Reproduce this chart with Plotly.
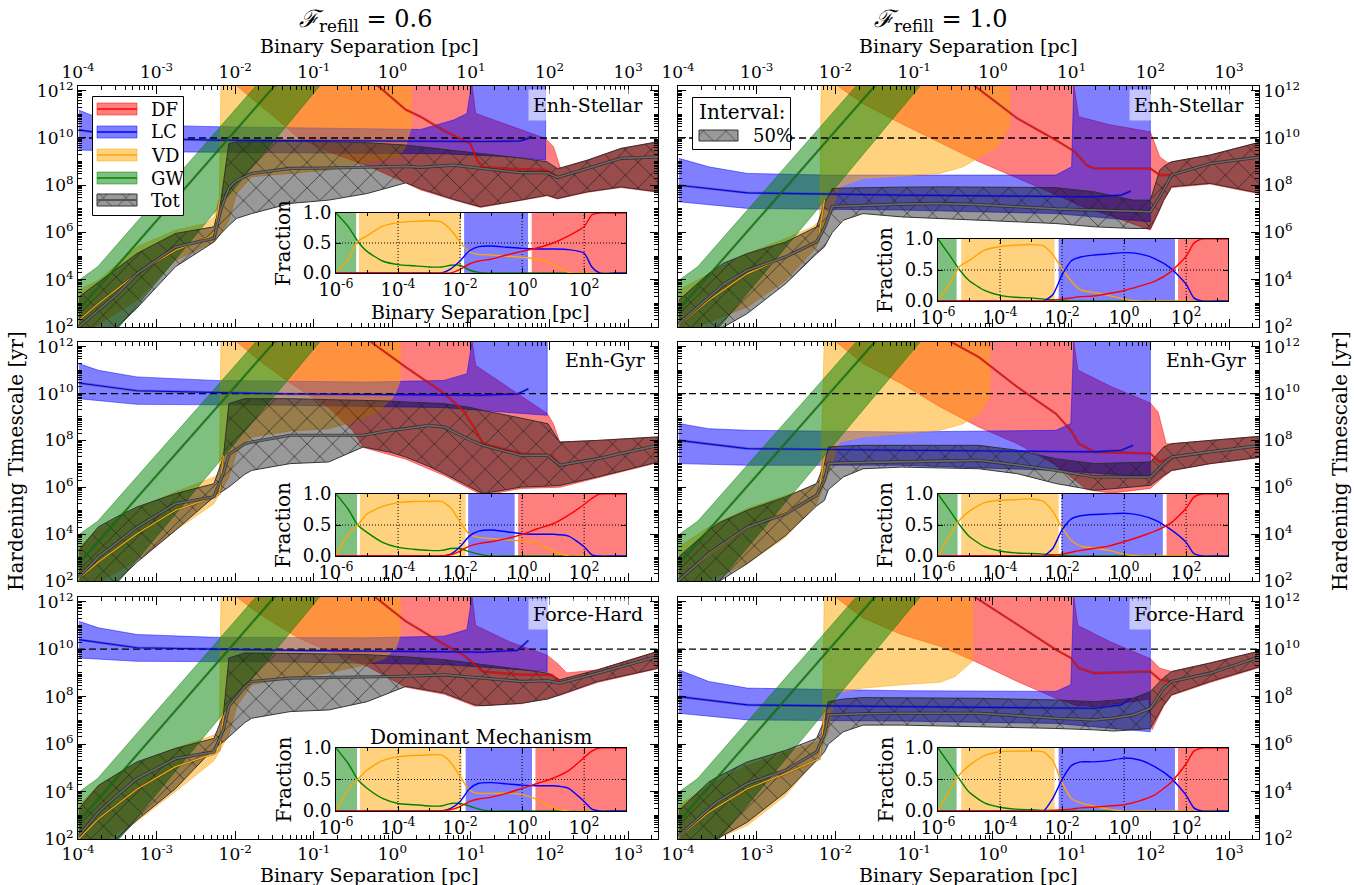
import plotly.graph_objects as go

FONT = "DejaVu Serif"
W, H = 1354, 885

# ======================= DATA (log10 values) =======================
# x : log10(binary separation / pc)     y : log10(hardening timescale / yr)

# --- gravitational-wave band (same in all panels)
GW_X = [-4.0, -3.75, -3.5, -3.0, -2.5, -2.0, -1.5, -1.0, -0.5]
GW_HI = [3.95, 4.55, 5.5, 7.4, 9.3, 11.2, 13.1, 15.0, 16.9]
GW_MD = [2.7, 3.65, 4.6, 6.5, 8.4, 10.3, 12.2, 14.1, 16.0]
GW_LO = [0.0, 1.0, 1.9, 3.9, 5.9, 7.9, 9.9, 11.9, 13.9]

HUBBLE_LOG = 10.0

# ---------- panel L1 : Enh-Stellar, F_refill = 0.6
TOT_X_L1 = [-3.99, -3.74, -3.5, -3.25, -2.76, -2.27, -2.18, -2.08, -1.98, -1.79, -1.3, -0.81, -0.32, 0.17, 0.36, 0.78, 1.12, 1.63, 1.97, 2.1, 2.48, 2.91, 3.38]
TOT_HI_L1 = [3.27, 3.9, 4.5, 5.11, 5.96, 6.24, 7.37, 9.77, 9.84, 9.85, 9.85, 9.84, 9.8, 9.7, 9.63, 9.45, 9.32, 9.15, 8.99, 8.7, 9.06, 9.56, 9.84]
TOT_MD_L1 = [2.0, 2.7, 3.4, 4.26, 5.39, 5.75, 7.0, 7.9, 8.2, 8.5, 8.71, 8.73, 8.75, 8.8, 8.76, 8.85, 8.72, 8.53, 8.53, 8.33, 8.71, 9.14, 9.2]
TOT_LO_L1 = [0.8, 1.4, 2.0, 2.8, 4.55, 5.6, 5.96, 6.3, 6.6, 6.8, 7.23, 7.37, 7.65, 8.1, 7.85, 7.4, 7.09, 7.37, 7.58, 7.44, 7.72, 7.93, 7.72]
LC_HX_L1 = [-3.99, -3.74, -3.5, -3.25, -2.27, -0.32, 0.36, 0.78, 0.95, 1.02, 1.95]
LC_HI_L1 = [11.18, 10.85, 10.62, 10.55, 10.48, 10.41, 10.36, 10.76, 11.04, 12.6, 12.6]
LC_LX_L1 = [-3.99, -3.25, -1.3, 0.66, 1.5, 1.95]
LC_LO_L1 = [9.49, 9.42, 9.38, 9.33, 9.2, 9.06]
LC_MX_L1 = [-3.99, -3.5, -3.25, -2.27, -0.32, 0.36, 1.21, 1.63, 1.71, 1.77]
LC_MD_L1 = [10.34, 10.1, 9.98, 9.91, 9.87, 9.85, 9.85, 9.88, 9.96, 10.08]
DF_HX_L1 = [-1.98, 1.0, 1.06, 1.63, 1.95, 2.05, 2.1, 2.14, 2.48, 2.91, 3.38]
DF_HI_L1 = [12.6, 12.6, 11.04, 10.34, 9.98, 9.63, 9.06, 8.7, 9.06, 9.56, 9.84]
DF_LX_L1 = [-1.98, -1.69, -1.4, -1.2, -0.8, -0.3, 0.17, 0.36, 0.78, 1.12, 1.63, 1.97, 2.1, 2.48, 2.91, 3.38]
DF_LO_L1 = [12.2, 11.4, 10.6, 10.0, 9.4, 8.8, 8.1, 7.8, 7.37, 7.06, 7.35, 7.55, 7.42, 7.7, 7.9, 7.7]
DF_MX_L1 = [-0.4, -0.17, 0.17, 0.36, 0.66, 0.99, 1.09, 1.16, 1.63, 1.95, 2.04, 2.1]
DF_MD_L1 = [12.6, 12.17, 11.2, 10.9, 10.3, 9.77, 9.0, 8.76, 8.68, 8.64, 8.5, 8.36]
VD_HX_L1 = [-3.99, -3.74, -3.25, -2.76, -2.37, -2.27, -2.2, -2.18, 0.24]
VD_HI_L1 = [3.56, 3.98, 5.39, 6.1, 6.38, 6.66, 7.37, 12.6, 12.6]
VD_LX_L1 = [-3.99, -3.25, -2.76, -2.27, -2.18, -2.08, -1.98, -1.79, -1.3, -0.81, -0.32, 0.07, 0.17, 0.24]
VD_LO_L1 = [1.58, 3.13, 4.83, 5.6, 5.96, 6.52, 7.65, 8.36, 8.5, 8.64, 8.99, 9.2, 9.63, 10.48]
VD_MX_L1 = [-3.99, -3.74, -3.25, -2.76, -2.32, -2.25, -2.2]
VD_MD_L1 = [2.28, 2.99, 4.26, 5.25, 5.82, 6.1, 7.37]

# ---------- panel R1 : Enh-Stellar, F_refill = 1.0
TOT_X_R1 = [-3.99, -3.61, -3.42, -3.12, -2.63, -2.24, -2.14, -2.04, -1.9, -1.65, -1.16, -0.67, -0.18, 0.31, 0.8, 1.29, 1.78, 2.0, 2.12, 2.17, 2.27, 2.76, 3.41]
TOT_HI_R1 = [3.13, 4.26, 4.7, 5.11, 5.6, 6.24, 7.23, 7.86, 7.88, 7.9, 7.92, 7.93, 7.92, 7.9, 7.9, 7.72, 7.37, 7.37, 8.64, 8.8, 8.99, 9.28, 9.84]
TOT_MD_R1 = [2.14, 3.27, 3.8, 4.4, 4.97, 5.6, 6.2, 7.1, 7.12, 7.16, 7.2, 7.23, 7.18, 7.09, 7.0, 6.95, 6.9, 6.88, 7.51, 7.8, 8.43, 8.92, 9.2]
TOT_LO_R1 = [1.0, 1.8, 2.0, 2.57, 3.84, 5.1, 5.39, 6.0, 6.52, 6.8, 6.66, 6.6, 6.52, 6.45, 6.38, 6.24, 6.17, 6.17, 7.0, 7.37, 7.94, 8.08, 7.65]
LC_HX_R1 = [-3.99, -3.61, -3.12, -2.14, 0.8, 1.0, 1.03, 2.0]
LC_HI_R1 = [9.14, 8.78, 8.5, 8.43, 8.43, 8.78, 12.6, 12.6]
LC_LX_R1 = [-3.99, -3.12, -1.16, 0.8, 2.0]
LC_LO_R1 = [7.3, 7.02, 6.95, 6.8, 6.45]
LC_MX_R1 = [-3.99, -3.12, -1.16, 1.29, 1.63, 1.75]
LC_MD_R1 = [8.0, 7.68, 7.58, 7.51, 7.58, 7.75]
DF_HX_R1 = [-1.97, 1.01, 1.09, 1.5, 2.0, 2.12, 2.22, 2.27, 2.76, 3.41]
DF_HI_R1 = [12.6, 12.6, 10.9, 10.55, 10.26, 9.2, 8.95, 8.99, 9.28, 9.84]
DF_LX_R1 = [-1.97, -1.65, -1.16, -0.67, -0.18, 0.3, 0.8, 1.14, 1.5, 2.0, 2.12, 2.17, 2.27, 2.76, 3.41]
DF_LO_R1 = [12.2, 11.45, 10.6, 9.8, 9.0, 8.3, 7.6, 7.09, 6.7, 6.1, 6.95, 7.35, 7.9, 8.05, 7.62]
DF_MX_R1 = [-0.4, -0.23, 0.31, 0.8, 1.04, 1.19, 1.29, 2.0, 2.12, 2.27]
DF_MD_R1 = [12.7, 12.2, 10.83, 9.91, 9.42, 8.85, 8.71, 8.71, 8.43, 8.43]
VD_HX_R1 = [-3.99, -3.12, -2.63, -2.29, -2.2, -2.18, 0.21]
VD_HI_R1 = [3.56, 5.11, 5.75, 6.24, 6.5, 12.6, 12.6]
VD_LX_R1 = [-3.99, -3.12, -2.63, -2.24, -2.09, -1.95, -1.65, -0.67, -0.38, 0.06, 0.21]
VD_LO_R1 = [1.7, 2.85, 3.98, 5.39, 6.52, 7.93, 8.29, 8.5, 8.78, 9.63, 10.48]
VD_MX_R1 = [-3.99, -3.61, -3.12, -2.63, -2.22, -2.14]
VD_MD_R1 = [2.07, 3.13, 4.26, 4.97, 5.68, 7.37]

# ---------- panel L2 : Enh-Gyr, F_refill = 0.6
TOT_X_L2 = [-3.99, -3.74, -3.5, -3.25, -2.76, -2.27, -2.15, -2.08, -1.88, -1.79, -1.3, -0.81, -0.37, -0.03, 0.17, 0.46, 0.66, 1.0, 1.15, 1.64, 1.98, 2.13, 2.61, 3.38]
TOT_HI_L2 = [3.31, 4.31, 4.75, 5.16, 5.73, 6.15, 7.29, 9.57, 9.78, 9.78, 9.78, 9.74, 9.71, 9.68, 9.64, 9.6, 9.57, 9.4, 9.28, 8.95, 8.71, 7.93, 8.0, 8.15]
TOT_MD_L2 = [2.17, 3.03, 3.65, 4.3, 5.3, 5.59, 6.6, 7.4, 7.85, 7.93, 8.22, 8.22, 8.22, 8.43, 8.5, 8.64, 8.57, 8.0, 7.79, 7.36, 7.36, 6.94, 7.22, 7.79]
TOT_LO_L2 = [0.9, 1.5, 2.0, 2.8, 4.16, 5.59, 5.85, 6.01, 6.55, 6.72, 7.01, 7.08, 7.72, 7.5, 7.29, 6.9, 6.58, 6.0, 5.73, 6.01, 6.05, 6.08, 6.44, 7.08]
LC_HX_L2 = [-3.99, -3.74, -3.25, -2.27, -0.32, 0.66, 0.95, 1.03, 1.97]
LC_HI_L2 = [11.28, 10.99, 10.71, 10.56, 10.49, 10.56, 10.85, 12.6, 12.6]
LC_LX_L2 = [-3.99, -3.25, -1.3, 0.66, 1.97]
LC_LO_L2 = [9.78, 9.54, 9.5, 9.4, 9.07]
LC_MX_L2 = [-3.99, -3.25, -1.3, 1.15, 1.59, 1.73]
LC_MD_L2 = [10.45, 10.12, 9.98, 9.93, 9.98, 10.2]
DF_HX_L2 = [-1.98, 1.0, 1.06, 1.5, 1.97, 2.05, 2.13, 2.61, 3.38]
DF_HI_L2 = [12.6, 12.6, 11.2, 10.2, 9.15, 8.7, 7.93, 8.0, 8.15]
DF_LX_L2 = [-1.98, -1.69, -1.3, -0.81, -0.5, -0.37, 0.17, 0.66, 1.15, 1.64, 2.13, 2.61, 3.38]
DF_LO_L2 = [12.2, 11.4, 10.45, 9.4, 8.4, 7.7, 7.2, 6.5, 5.65, 5.95, 6.0, 6.4, 7.05]
DF_MX_L2 = [-0.5, -0.27, 0.17, 0.66, 0.9, 1.05, 1.15, 1.64, 2.03, 2.13]
DF_MD_L2 = [12.7, 12.2, 11.13, 10.0, 9.28, 8.5, 7.86, 7.44, 7.36, 6.94]
VD_HX_L2 = [-3.99, -3.74, -3.25, -2.76, -2.27, -2.2, -2.18, 0.1]
VD_HI_L2 = [3.45, 4.23, 5.09, 5.8, 6.44, 6.6, 12.6, 12.6]
VD_LX_L2 = [-3.99, -3.25, -2.76, -2.27, -2.08, -1.98, -1.79, -1.3, -0.81, -0.5, -0.2, 0.0, 0.06, 0.1]
VD_LO_L2 = [1.46, 2.88, 4.16, 5.3, 6.44, 7.5, 8.15, 8.4, 8.5, 8.8, 9.2, 9.8, 10.2, 10.56]
VD_MX_L2 = [-3.99, -3.74, -3.25, -2.76, -2.27, -2.2, -2.15]
VD_MD_L2 = [2.1, 2.81, 4.02, 5.02, 5.59, 5.73, 7.36]

# ---------- panel R2 : Enh-Gyr, F_refill = 1.0
TOT_X_R2 = [-3.99, -3.61, -3.47, -3.12, -2.63, -2.24, -2.14, -2.09, -1.9, -1.65, -1.16, -0.18, 0.31, 0.8, 1.29, 1.78, 2.0, 2.17, 2.27, 2.76, 3.41]
TOT_HI_R2 = [3.03, 4.16, 4.5, 5.02, 5.59, 6.16, 7.0, 7.72, 7.76, 7.79, 7.79, 7.79, 7.58, 7.22, 7.01, 7.05, 7.08, 7.72, 7.86, 8.0, 8.18]
TOT_MD_R2 = [2.03, 3.17, 3.5, 4.3, 4.87, 5.66, 6.3, 7.01, 7.04, 7.06, 7.08, 7.15, 6.95, 6.72, 6.44, 6.44, 6.44, 7.01, 7.29, 7.51, 7.79]
TOT_LO_R2 = [0.8, 1.6, 2.0, 2.74, 3.95, 5.2, 5.44, 5.9, 6.44, 6.79, 6.86, 6.79, 6.58, 6.16, 5.87, 6.01, 6.08, 6.5, 6.72, 7.01, 7.29]
LC_HX_R2 = [-3.99, -3.61, -3.12, -1.16, 0.8, 0.99, 1.03, 2.0]
LC_HI_R2 = [8.72, 8.5, 8.43, 8.36, 8.43, 8.72, 12.6, 12.6]
LC_LX_R2 = [-3.99, -3.12, -1.16, 0.8, 2.0]
LC_LO_R2 = [7.01, 6.94, 6.94, 6.72, 6.44]
LC_MX_R2 = [-3.99, -3.12, -1.16, 1.29, 1.63, 1.78]
LC_MD_R2 = [8.0, 7.65, 7.58, 7.51, 7.58, 7.79]
DF_HX_R2 = [-1.99, 1.01, 1.08, 1.5, 2.0, 2.1, 2.2, 2.27, 2.76, 3.41]
DF_HI_R2 = [12.6, 12.6, 11.0, 10.3, 9.6, 9.2, 7.86, 7.86, 8.0, 8.18]
DF_LX_R2 = [-1.99, -1.65, -1.16, -0.67, -0.18, 0.31, 0.8, 1.19, 1.5, 2.0, 2.17, 2.27, 2.76, 3.41]
DF_LO_R2 = [12.2, 11.28, 10.42, 9.43, 8.57, 7.86, 6.95, 5.9, 5.75, 5.95, 6.45, 6.7, 7.0, 7.27]
DF_MX_R2 = [-0.7, -0.53, -0.18, 0.31, 0.8, 0.99, 1.09, 1.29, 2.0, 2.12, 2.27]
DF_MD_R2 = [12.6, 12.2, 11.56, 10.28, 9.14, 8.43, 7.86, 7.51, 7.44, 7.08, 7.29]
VD_HX_R2 = [-3.99, -3.61, -3.12, -2.63, -2.19, -2.14, -0.04]
VD_HI_R2 = [3.45, 4.3, 5.09, 5.66, 6.16, 12.6, 12.6]
VD_LX_R2 = [-3.99, -3.12, -2.63, -2.24, -2.09, -1.95, -1.65, -1.16, -0.67, -0.38, -0.18, -0.04]
VD_LO_R2 = [1.5, 2.74, 3.88, 5.3, 6.58, 7.93, 8.15, 8.29, 8.43, 8.71, 9.14, 9.85]
VD_MX_R2 = [-3.99, -3.61, -3.12, -2.63, -2.22, -2.14]
VD_MD_R2 = [2.05, 3.1, 4.25, 4.95, 5.65, 7.3]

# ---------- panel L3 : Force-Hard, F_refill = 0.6
TOT_X_L3 = [-3.99, -3.74, -3.5, -3.25, -2.76, -2.27, -2.15, -2.08, -1.88, -1.79, -1.3, -0.81, -0.32, 0.17, 0.66, 1.05, 1.15, 1.64, 1.98, 2.13, 2.61, 3.38]
TOT_HI_L3 = [3.27, 4.26, 4.75, 5.25, 5.82, 6.24, 7.23, 9.63, 9.84, 9.84, 9.82, 9.8, 9.77, 9.68, 9.56, 9.4, 9.35, 9.15, 8.99, 8.71, 9.13, 9.91]
TOT_MD_L3 = [2.14, 3.13, 3.85, 4.54, 5.39, 5.67, 6.6, 7.6, 8.4, 8.64, 8.78, 8.8, 8.81, 8.86, 8.92, 8.82, 8.78, 8.64, 8.67, 8.57, 8.99, 9.7]
TOT_LO_L3 = [0.9, 1.5, 2.0, 2.8, 4.12, 5.82, 6.1, 6.3, 6.9, 7.09, 7.37, 7.44, 7.79, 8.43, 8.15, 7.65, 7.62, 7.72, 7.9, 8.08, 8.64, 9.2]
LC_HX_L3 = [-3.99, -3.74, -3.25, -2.27, -0.32, 0.66, 0.95, 1.03, 1.97]
LC_HI_L3 = [11.18, 10.9, 10.62, 10.5, 10.48, 10.55, 10.83, 12.6, 12.6]
LC_LX_L3 = [-3.99, -3.25, -1.3, 0.66, 1.97]
LC_LO_L3 = [9.63, 9.49, 9.46, 9.35, 9.06]
LC_MX_L3 = [-3.99, -3.25, -1.3, 1.15, 1.59, 1.73]
LC_MD_L3 = [10.4, 10.06, 9.95, 9.88, 9.95, 10.37]
DF_HX_L3 = [-1.98, 1.0, 1.06, 1.5, 1.97, 2.1, 2.22, 2.61, 3.38]
DF_HI_L3 = [12.6, 12.6, 11.0, 10.3, 9.75, 9.4, 9.0, 9.13, 9.91]
DF_LX_L3 = [-1.98, -1.69, -1.2, -0.81, -0.32, 0.17, 0.66, 1.05, 1.64, 2.13, 2.61, 3.38]
DF_LO_L3 = [12.2, 11.47, 10.48, 9.91, 9.28, 8.4, 8.1, 7.6, 7.7, 8.05, 8.6, 9.18]
DF_MX_L3 = [-0.4, -0.22, 0.17, 0.66, 0.9, 1.1, 1.15, 1.64, 2.03, 2.13]
DF_MD_L3 = [12.6, 12.2, 11.18, 10.2, 9.77, 9.2, 9.06, 8.92, 8.92, 8.64]
VD_HX_L3 = [-3.99, -3.74, -3.25, -2.76, -2.27, -2.2, -2.18, 0.1]
VD_HI_L3 = [3.41, 4.26, 5.18, 5.82, 6.38, 6.6, 12.6, 12.6]
VD_LX_L3 = [-3.99, -3.25, -2.76, -2.27, -2.08, -1.98, -1.79, -1.3, -0.81, -0.4, -0.1, 0.05, 0.1]
VD_LO_L3 = [1.3, 2.75, 4.0, 5.3, 6.4, 7.6, 8.5, 8.8, 9.0, 9.3, 9.6, 10.1, 10.62]
VD_MX_L3 = [-3.99, -3.74, -3.25, -2.76, -2.27, -2.2, -2.15]
VD_MD_L3 = [2.0, 2.85, 4.1, 5.05, 5.6, 5.75, 7.2]

# ---------- panel R3 : Force-Hard, F_refill = 1.0
TOT_X_R3 = [-3.99, -3.61, -3.51, -3.12, -2.63, -2.24, -2.14, -2.09, -1.9, -1.65, -1.16, -0.18, 0.8, 1.29, 1.53, 1.78, 2.0, 2.17, 2.27, 2.76, 3.41]
TOT_HI_R3 = [3.2, 4.4, 4.6, 5.25, 5.74, 6.24, 7.0, 7.79, 7.9, 7.96, 7.95, 7.93, 7.86, 7.79, 7.85, 7.93, 8.22, 8.8, 9.06, 9.42, 9.94]
TOT_MD_R3 = [2.14, 3.27, 3.55, 4.33, 4.9, 5.67, 6.4, 7.23, 7.26, 7.28, 7.3, 7.3, 7.09, 7.02, 7.1, 7.23, 7.51, 8.36, 8.64, 8.99, 9.7]
TOT_LO_R3 = [0.8, 1.7, 2.0, 2.71, 3.98, 5.3, 5.67, 6.0, 6.52, 6.8, 6.8, 6.73, 6.66, 6.6, 6.55, 6.6, 6.66, 7.65, 8.08, 8.64, 9.28]
LC_HX_R3 = [-3.99, -3.61, -3.12, -1.16, 0.8, 0.99, 1.03, 2.0]
LC_HI_R3 = [9.13, 8.64, 8.36, 8.25, 8.22, 8.5, 12.6, 12.6]
LC_LX_R3 = [-3.99, -3.12, -1.16, 0.8, 2.0]
LC_LO_R3 = [7.3, 7.02, 6.97, 6.87, 6.52]
LC_MX_R3 = [-3.99, -3.12, -1.16, 1.29, 1.63, 1.75]
LC_MD_R3 = [8.0, 7.65, 7.58, 7.51, 7.65, 7.93]
DF_HX_R3 = [-2.0, 1.01, 1.08, 1.5, 2.0, 2.12, 2.27, 2.76, 3.41]
DF_HI_R3 = [12.6, 12.6, 11.0, 10.3, 9.6, 9.2, 9.06, 9.42, 9.94]
DF_LX_R3 = [-2.0, -1.65, -1.16, -0.67, -0.23, 0.31, 0.8, 1.04, 1.29, 1.78, 1.98, 2.02, 2.17, 2.27, 2.76, 3.41]
DF_LO_R3 = [12.2, 11.32, 10.62, 10.12, 9.49, 8.64, 7.93, 7.65, 7.58, 7.79, 7.9, 6.6, 7.6, 8.05, 8.6, 9.25]
DF_MX_R3 = [-0.4, -0.23, 0.31, 0.8, 0.99, 1.09, 1.29, 2.0, 2.12, 2.27]
DF_MD_R3 = [12.7, 12.2, 11.04, 9.98, 9.63, 9.2, 8.99, 9.06, 8.71, 8.64]
VD_HX_R3 = [-3.99, -3.61, -3.12, -2.63, -2.24, -2.17, -2.14, -0.26]
VD_HI_R3 = [3.41, 4.26, 5.1, 5.67, 6.1, 6.4, 12.6, 12.6]
VD_LX_R3 = [-3.99, -3.12, -2.63, -2.24, -2.09, -2.0, -1.65, -1.16, -0.67, -0.48, -0.26]
VD_LO_R3 = [1.3, 2.57, 3.84, 5.39, 6.52, 8.15, 8.36, 8.5, 8.61, 8.85, 9.49]
VD_MX_R3 = [-3.99, -3.61, -3.12, -2.63, -2.2, -2.14]
VD_MD_R3 = [2.07, 3.13, 4.12, 4.76, 5.39, 7.23]

# ---------- inset fractions ("Dominant Mechanism")
FR_X = [-6.0, -5.6, -5.3, -5.0, -4.5, -4.0, -3.5, -3.0, -2.6, -2.3, -2.0, -1.7, -1.4, -1.0, -0.5, 0.0, 0.5, 1.0, 1.5, 2.0, 2.25, 2.5, 3.0, 3.35]
FR_GW_L1 = [1.0, 0.77, 0.53, 0.36, 0.2, 0.14, 0.12, 0.1, 0.1, 0.13, 0.13, 0.05, 0.01, 0, 0, 0, 0, 0, 0, 0, 0, 0, 0, 0]
FR_VD_L1 = [0, 0.23, 0.53, 0.62, 0.78, 0.84, 0.86, 0.87, 0.85, 0.72, 0.52, 0.35, 0.31, 0.3, 0.28, 0.26, 0.23, 0.14, 0.01, 0, 0, 0, 0, 0]
FR_LC_L1 = [0, 0, 0, 0, 0, 0, 0, 0, 0, 0.07, 0.2, 0.37, 0.44, 0.45, 0.43, 0.41, 0.4, 0.4, 0.39, 0.33, 0.1, 0, 0, 0]
FR_DF_L1 = [0, 0, 0, 0, 0, 0, 0, 0, 0, 0, 0.06, 0.15, 0.2, 0.23, 0.3, 0.36, 0.42, 0.5, 0.62, 0.77, 0.97, 1.0, 1.0, 1.0]
FR_GW_R1 = [1.0, 0.72, 0.5, 0.33, 0.17, 0.09, 0.06, 0.05, 0.03, 0.02, 0.01, 0, 0, 0, 0, 0, 0, 0, 0, 0, 0, 0, 0, 0]
FR_VD_R1 = [0, 0.3, 0.56, 0.65, 0.82, 0.88, 0.9, 0.91, 0.89, 0.75, 0.52, 0.32, 0.18, 0.14, 0.09, 0.03, 0, 0, 0, 0, 0, 0, 0, 0]
FR_LC_R1 = [0, 0, 0, 0, 0, 0, 0, 0, 0, 0.1, 0.42, 0.65, 0.71, 0.74, 0.76, 0.78, 0.76, 0.68, 0.53, 0.27, 0.05, 0, 0, 0]
FR_DF_R1 = [0, 0, 0, 0, 0, 0, 0, 0, 0, 0.01, 0.03, 0.05, 0.07, 0.08, 0.12, 0.17, 0.24, 0.32, 0.47, 0.72, 0.93, 1.0, 1.0, 1.0]
FR_GW_L2 = [1.0, 0.75, 0.5, 0.38, 0.22, 0.14, 0.11, 0.09, 0.09, 0.12, 0.12, 0.07, 0.03, 0, 0, 0, 0, 0, 0, 0, 0, 0, 0, 0]
FR_VD_L2 = [0, 0.35, 0.5, 0.68, 0.8, 0.86, 0.88, 0.88, 0.88, 0.78, 0.55, 0.35, 0.3, 0.28, 0.26, 0.24, 0.2, 0.08, 0, 0, 0, 0, 0, 0]
FR_LC_L2 = [0, 0, 0, 0, 0, 0, 0, 0, 0, 0.03, 0.15, 0.32, 0.4, 0.42, 0.39, 0.36, 0.35, 0.35, 0.32, 0.15, 0.02, 0, 0, 0]
FR_DF_L2 = [0, 0, 0, 0, 0, 0, 0, 0, 0, 0.02, 0.08, 0.16, 0.2, 0.23, 0.28, 0.35, 0.44, 0.52, 0.66, 0.83, 0.93, 1.0, 1.0, 1.0]
FR_GW_R2 = [1.0, 0.72, 0.5, 0.32, 0.15, 0.08, 0.05, 0.04, 0.03, 0.02, 0.01, 0, 0, 0, 0, 0, 0, 0, 0, 0, 0, 0, 0, 0]
FR_VD_R2 = [0, 0.35, 0.58, 0.72, 0.86, 0.9, 0.91, 0.92, 0.88, 0.72, 0.46, 0.25, 0.16, 0.13, 0.09, 0.03, 0, 0, 0, 0, 0, 0, 0, 0]
FR_LC_R2 = [0, 0, 0, 0, 0, 0, 0, 0, 0, 0.12, 0.42, 0.6, 0.65, 0.67, 0.68, 0.69, 0.66, 0.58, 0.43, 0.22, 0.04, 0, 0, 0]
FR_DF_R2 = [0, 0, 0, 0, 0, 0, 0, 0, 0, 0.01, 0.03, 0.06, 0.09, 0.12, 0.16, 0.23, 0.31, 0.4, 0.53, 0.77, 0.95, 1.0, 1.0, 1.0]
FR_GW_L3 = [1.0, 0.75, 0.5, 0.36, 0.2, 0.12, 0.1, 0.08, 0.08, 0.12, 0.12, 0.08, 0.03, 0, 0, 0, 0, 0, 0, 0, 0, 0, 0, 0]
FR_VD_L3 = [0, 0.35, 0.5, 0.65, 0.8, 0.86, 0.88, 0.89, 0.89, 0.77, 0.55, 0.33, 0.28, 0.28, 0.28, 0.26, 0.18, 0.05, 0, 0, 0, 0, 0, 0]
FR_LC_L3 = [0, 0, 0, 0, 0, 0, 0, 0, 0, 0.04, 0.15, 0.35, 0.44, 0.45, 0.43, 0.41, 0.4, 0.4, 0.36, 0.15, 0.03, 0, 0, 0]
FR_DF_L3 = [0, 0, 0, 0, 0, 0, 0, 0, 0, 0.02, 0.07, 0.15, 0.19, 0.22, 0.28, 0.36, 0.44, 0.52, 0.64, 0.85, 0.95, 1.0, 1.0, 1.0]
FR_GW_R3 = [1.0, 0.72, 0.5, 0.3, 0.13, 0.06, 0.03, 0.02, 0.01, 0.01, 0, 0, 0, 0, 0, 0, 0, 0, 0, 0, 0, 0, 0, 0]
FR_VD_R3 = [0, 0.35, 0.58, 0.72, 0.88, 0.94, 0.95, 0.95, 0.94, 0.8, 0.45, 0.2, 0.13, 0.08, 0.03, 0, 0, 0, 0, 0, 0, 0, 0, 0]
FR_LC_R3 = [0, 0, 0, 0, 0, 0, 0, 0, 0, 0.2, 0.5, 0.72, 0.78, 0.78, 0.8, 0.84, 0.81, 0.7, 0.53, 0.25, 0.05, 0, 0, 0]
FR_DF_R3 = [0, 0, 0, 0, 0, 0, 0, 0, 0, 0.01, 0.02, 0.03, 0.05, 0.06, 0.08, 0.1, 0.16, 0.26, 0.45, 0.75, 0.95, 1.0, 1.0, 1.0]

# dominant-mechanism spans (log10 edges: GW, VD, LC, DF)
SPAN_L1 = [-6.0, -5.35, -5.26, -1.97, -1.87, 0.19, 0.31, 3.35]
SPAN_R1 = [-6.0, -5.40, -5.25, -2.24, -2.11, 1.64, 1.74, 3.35]
SPAN_L2 = [-6.0, -5.32, -5.23, -1.82, -1.74, -0.24, -0.13, 3.35]
SPAN_R2 = [-6.0, -5.37, -5.25, -2.11, -2.02, 1.25, 1.37, 3.35]
SPAN_L3 = [-6.0, -5.32, -5.23, -1.95, -1.82, 0.32, 0.43, 3.35]
SPAN_R3 = [-6.0, -5.40, -5.25, -2.24, -2.11, 1.64, 1.74, 3.35]

PANEL_LABELS = ["Enh-Stellar", "Enh-Stellar", "Enh-Gyr", "Enh-Gyr", "Force-Hard", "Force-Hard"]
MAIN_X_TICK_EXP = [-4, -3, -2, -1, 0, 1, 2, 3]
MAIN_Y_TICK_EXP = [2, 4, 6, 8, 10, 12]
INSET_X_TICK_EXP = [-6, -4, -2, 0, 2]
INSET_Y_TICKS = [0.0, 0.5, 1.0]

# ======================= LAYOUT GEOMETRY (pixels) =======================
COL_PX = {"L": (78, 658), "R": (678, 1259)}
ROW_PX = {1: (86, 327), 2: (342, 581), 3: (597, 839)}
INSET_COL_PX = {"L": (336, 626), "R": (938, 1228)}
INSET_ROW_PX = {"L1": (213, 273), "R1": (239, 301), "L2": (494, 556),
                "R2": (494, 556), "L3": (748, 811), "R3": (748, 811)}
MAIN_XR = [-4.0, 3.38]
MAIN_YR = [2.0, 12.2]
INSET_XR = [-6.0, 3.35]

COLORS = {"DF": (255, 0, 0), "LC": (0, 0, 255), "VD": (255, 165, 0), "GW": (0, 128, 0)}
HATCH = dict(shape="x", size=18, solidity=0.08, fgcolor="rgba(25,25,25,0.85)",
             bgcolor="rgba(0,0,0,0.4)", fillmode="replace")
TOT_FILL = "rgba(0,0,0,0.4)"
TOT_EDGE = "rgba(45,45,45,0.95)"


def rgba(c, a):
    return f"rgba({c[0]},{c[1]},{c[2]},{a})"


def P(v):
    return [10.0 ** t for t in v]


def xid(i):
    return "x" if i == 1 else f"x{i}"


def yid(i):
    return "y" if i == 1 else f"y{i}"


def dom_x(a, b):
    return [a / W, b / W]


def dom_y(top, bot):
    return [1 - bot / H, 1 - top / H]


fig = go.Figure()


def add(ax, **kw):
    kw.setdefault("hoverinfo", "skip")
    kw.setdefault("showlegend", False)
    fig.add_trace(go.Scatter(xaxis=xid(ax), yaxis=yid(ax), **kw))


def band(ax, xh, yh, xl, yl, fill, edge, ew=0.8, pattern=None):
    xs = P(xh) + P(xl)[::-1]
    ys = P(yh) + P(yl)[::-1]
    kw = dict(x=xs, y=ys, mode="lines", fill="toself", fillcolor=fill,
              line=dict(color=edge, width=ew))
    if pattern:
        kw["fillpattern"] = pattern
    add(ax, **kw)


def med(ax, xs, ys, color, w=1.2, halo="rgba(50,50,50,0.4)", hw=2.6):
    add(ax, x=P(xs), y=P(ys), mode="lines", line=dict(color=halo, width=hw))
    add(ax, x=P(xs), y=P(ys), mode="lines", line=dict(color=color, width=w))


PANELS = [("L1", 1, 7, "L", 1), ("R1", 2, 8, "R", 1), ("L2", 3, 9, "L", 2),
          ("R2", 4, 10, "R", 2), ("L3", 5, 11, "L", 3), ("R3", 6, 12, "R", 3)]

G = globals()

for key, ax, iax, col, row in PANELS:
    def a(name):
        return G[f"{name}_{key}"]
    for m in ["DF", "LC", "VD"]:
        band(ax, a(f"{m}_HX"), a(f"{m}_HI"), a(f"{m}_LX"), a(f"{m}_LO"),
             rgba(COLORS[m], 0.5), rgba(COLORS[m], 0.6))
    band(ax, GW_X, GW_HI, GW_X, GW_LO, rgba(COLORS["GW"], 0.5), rgba(COLORS["GW"], 0.6))
    band(ax, a("TOT_X"), a("TOT_HI"), a("TOT_X"), a("TOT_LO"), TOT_FILL, TOT_EDGE,
         ew=1.0, pattern=HATCH)
    add(ax, x=P(MAIN_XR), y=P([HUBBLE_LOG, HUBBLE_LOG]), mode="lines",
        line=dict(color="black", width=1.3, dash="7px,4px"))
    for m in ["DF", "LC", "VD"]:
        med(ax, a(f"{m}_MX"), a(f"{m}_MD"), rgba(COLORS[m], 1))
    med(ax, GW_X, GW_MD, rgba(COLORS["GW"], 1))
    med(ax, a("TOT_X"), a("TOT_MD"), "#6a6a6a", w=1.6, halo="rgba(35,35,35,0.75)", hw=3.2)

    # ---------------- inset ----------------
    span = G[f"SPAN_{key}"]
    add(iax, x=P([INSET_XR[0], INSET_XR[1], INSET_XR[1], INSET_XR[0], INSET_XR[0]]),
        y=[0, 0, 1, 1, 0], mode="lines", fill="toself", fillcolor="white",
        line=dict(width=0, color="white"))
    for i, m in enumerate(["GW", "VD", "LC", "DF"]):
        x0, x1 = span[2 * i], span[2 * i + 1]
        add(iax, x=P([x0, x1, x1, x0, x0]), y=[0, 0, 1, 1, 0], mode="lines",
            fill="toself", fillcolor=rgba(COLORS[m], 0.5),
            line=dict(width=0, color="rgba(0,0,0,0)"))
    gx, gy = [], []
    for e in INSET_X_TICK_EXP[1:]:
        gx += [10.0 ** e, 10.0 ** e, None]
        gy += [0, 1, None]
    gx += P(INSET_XR)
    gy += [0.5, 0.5]
    add(iax, x=gx, y=gy, mode="lines", line=dict(color="black", width=1, dash="1px,2px"))
    for m in ["GW", "VD", "LC", "DF"]:
        add(iax, x=P(FR_X), y=G[f"FR_{m}_{key}"], mode="lines",
            line=dict(color=rgba(COLORS[m], 1), width=1.4, shape="spline", smoothing=0.6))

# ---------------- legend boxes (own small axes, pixel coordinates) ----------------
LEG1_BOX = (92, 184, 96, 216)
LEG1_ROWS = [109, 132, 155, 178, 200]
LEG1_NAMES = ["DF", "LC", "VD", "GW", "Tot"]
LEG2_BOX = (692, 791, 97, 150)


def rect_xy(x0, x1, y0, y1):
    return [x0, x1, x1, x0, x0], [y0, y0, y1, y1, y0]


def legend_box(ax, box):
    x0, x1, y0, y1 = box
    bx, by = rect_xy(x0 + 0.5, x1 - 0.5, y0 + 0.5, y1 - 0.5)
    add(ax, x=bx, y=by, mode="lines", fill="toself", fillcolor="white",
        line=dict(color="black", width=1))


legend_box(13, LEG1_BOX)
for name, yc in zip(LEG1_NAMES, LEG1_ROWS):
    rx, ry = rect_xy(97, 137, yc - 6, yc + 6)
    if name == "Tot":
        add(13, x=rx, y=ry, mode="lines", fill="toself", fillcolor=TOT_FILL,
            fillpattern=dict(HATCH, size=16), line=dict(color=TOT_EDGE, width=1))
        add(13, x=[97, 137], y=[yc, yc], mode="lines", line=dict(color="#555555", width=2))
    else:
        c = COLORS[name]
        add(13, x=rx, y=ry, mode="lines", fill="toself", fillcolor=rgba(c, 0.5),
            line=dict(color=rgba(c, 0.6), width=0.8))
        add(13, x=[97, 137], y=[yc, yc], mode="lines", line=dict(color=rgba(c, 1), width=1.3))

legend_box(14, LEG2_BOX)
rx, ry = rect_xy(699, 738, 130, 141)
add(14, x=rx, y=ry, mode="lines", fill="toself", fillcolor=TOT_FILL,
    fillpattern=dict(HATCH, size=16), line=dict(color=TOT_EDGE, width=1))

# ---------------- axes ----------------
MAIN_TICKFONT = dict(family=FONT, size=17, color="black")
INSET_TICKFONT = dict(family=FONT, size=18, color="black")
MINOR_X = [m * 10.0 ** k for k in range(-4, 4) for m in range(2, 10) if m * 10.0 ** k < 10 ** 3.38]
MINOR_Y = [m * 10.0 ** k for k in range(2, 12) for m in range(1, 10) if not (m == 1 and k % 2 == 0)]
INSET_MINOR_X = P([-5, -3, -1, 1, 3])

layout_axes = {}
for key, ax, iax, col, row in PANELS:
    x0, x1 = COL_PX[col]
    top, bot = ROW_PX[row]
    common = dict(showgrid=False, zeroline=False, showline=True, linecolor="black",
                  linewidth=1, mirror="allticks", ticks="inside", ticklen=8, tickwidth=1,
                  tickcolor="black", tickfont=MAIN_TICKFONT, tickmode="array",
                  fixedrange=True, automargin=False)
    xa = dict(common, type="log", range=MAIN_XR, domain=dom_x(x0, x1), anchor=yid(ax),
              tickvals=P(MAIN_X_TICK_EXP),
              ticktext=[f"10<sup>{e}</sup>" for e in MAIN_X_TICK_EXP],
              showticklabels=(row != 2), side=("top" if row == 1 else "bottom"),
              minor=dict(ticks="inside", ticklen=4, tickwidth=1, tickcolor="black",
                         tickmode="array", tickvals=MINOR_X))
    ya = dict(common, type="log", range=MAIN_YR, domain=dom_y(top, bot), anchor=xid(ax),
              tickvals=P(MAIN_Y_TICK_EXP),
              ticktext=[f"10<sup>{e}</sup>" for e in MAIN_Y_TICK_EXP],
              side=("left" if col == "L" else "right"),
              minor=dict(ticks="inside", ticklen=4, tickwidth=1, tickcolor="black",
                         tickmode="array", tickvals=MINOR_Y))
    layout_axes["xaxis" if ax == 1 else f"xaxis{ax}"] = xa
    layout_axes["yaxis" if ax == 1 else f"yaxis{ax}"] = ya

    ix0, ix1 = INSET_COL_PX[col]
    itop, ibot = INSET_ROW_PX[key]
    icommon = dict(common, ticklen=5, tickfont=INSET_TICKFONT)
    layout_axes[f"xaxis{iax}"] = dict(
        icommon, type="log", range=INSET_XR, domain=dom_x(ix0, ix1), anchor=yid(iax),
        tickvals=P(INSET_X_TICK_EXP),
        ticktext=[f"10<sup>{e}</sup>" for e in INSET_X_TICK_EXP],
        minor=dict(ticks="inside", ticklen=3, tickwidth=1, tickcolor="black",
                   tickmode="array", tickvals=INSET_MINOR_X))
    layout_axes[f"yaxis{iax}"] = dict(
        icommon, range=[0, 1], domain=dom_y(itop, ibot), anchor=xid(iax),
        tickvals=INSET_Y_TICKS, ticktext=[f"{v:.1f}" for v in INSET_Y_TICKS])

for ax, box in ((13, LEG1_BOX), (14, LEG2_BOX)):
    x0, x1, y0, y1 = box
    layout_axes[f"xaxis{ax}"] = dict(domain=dom_x(x0, x1), range=[x0, x1], visible=False,
                                     anchor=f"y{ax}", fixedrange=True, automargin=False)
    layout_axes[f"yaxis{ax}"] = dict(domain=dom_y(y0, y1), range=[y1, y0], visible=False,
                                     anchor=f"x{ax}", fixedrange=True, automargin=False)

# ---------------- annotations ----------------
ann = []


def text(px, py, s, size=16, xanchor="center", angle=0, bg=None):
    d = dict(x=px / W, y=1 - py / H, xref="paper", yref="paper", text=s, showarrow=False,
             xanchor=xanchor, yanchor="middle", textangle=angle,
             font=dict(family=FONT, size=size, color="black"))
    if bg:
        d.update(bgcolor=bg, borderpad=4)
    ann.append(d)


text(365, 20, "<i>ℱ</i><sub>refill</sub> = 0.6", size=24)
text(940, 20, "<i>ℱ</i><sub>refill</sub> = 1.0", size=24)
for cx in (369, 968):
    text(cx, 46, "Binary Separation [pc]", size=19)
    text(cx, 875, "Binary Separation [pc]", size=19)
text(16, 461, "Hardening Timescale [yr]", size=20, angle=-90)
text(1340, 461, "Hardening Timescale [yr]", size=20, angle=-90)

LABEL_PY = {1: 105, 2: 360, 3: 614}
for (key, ax, iax, col, row), lab in zip(PANELS, PANEL_LABELS):
    rx = COL_PX[col][1] - 10
    text(rx, LABEL_PY[row], lab, size=19, xanchor="right",
         bg=(None if row == 2 else "rgba(255,255,255,0.55)"))
    ix0 = INSET_COL_PX[col][0]
    itop, ibot = INSET_ROW_PX[key]
    text(ix0 - 53, (itop + ibot) / 2, "Fraction", size=20, angle=-90)

text(481, 312, "Binary Separation [pc]", size=19)
text(481, 737, "Dominant Mechanism", size=20)
for name, yc in zip(LEG1_NAMES, LEG1_ROWS):
    text(149, yc, name, size=18, xanchor="left")
text(742, 112, "Interval:", size=20)
text(751, 136, "50%", size=18, xanchor="left")

fig.update_layout(
    width=W, height=H, autosize=False, margin=dict(l=0, r=0, t=0, b=0, pad=0),
    paper_bgcolor="white", plot_bgcolor="white", showlegend=False,
    annotations=ann, **layout_axes)

fig.write_html("out.html", config={"displayModeBar": False},
               post_script="document.body.style.margin='0';document.body.style.overflow='hidden';")
